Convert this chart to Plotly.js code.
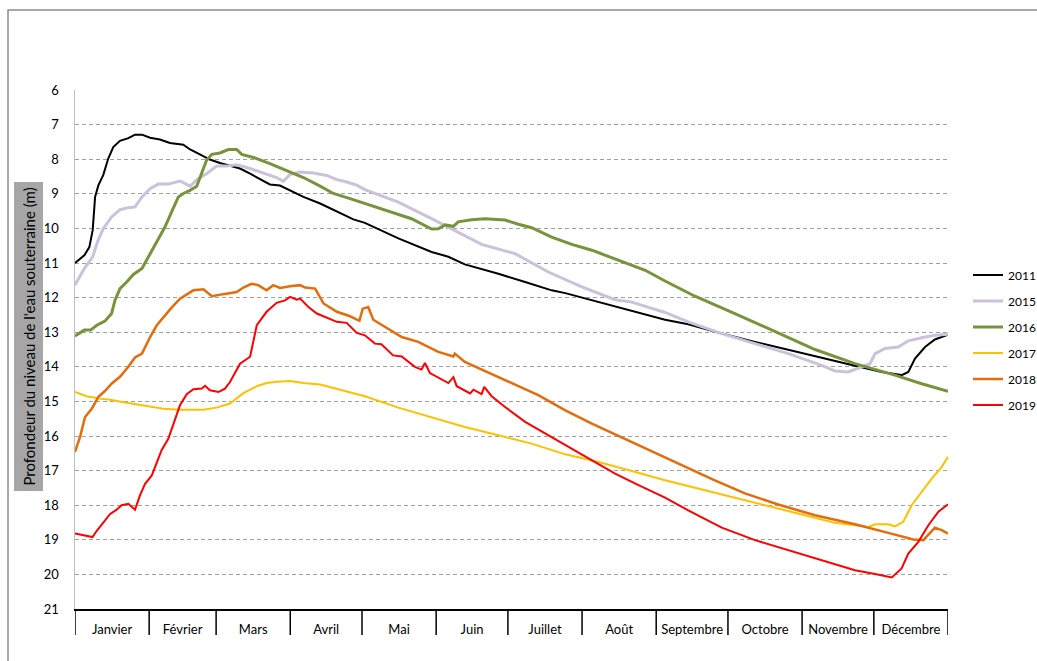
<!DOCTYPE html>
<html>
<head>
<meta charset="utf-8">
<script src="https://cdn.plot.ly/plotly-3.0.1.min.js"></script>
<style>
html,body{margin:0;padding:0;background:#fff;}
#chart{width:1037px;height:661px;}
</style>
</head>
<body>
<div id="chart"></div>
<script>
// Month categories (day-of-year boundaries and labels)
const monthNames = ["Janvier","Février","Mars","Avril","Mai","Juin","Juillet","Août","Septembre","Octobre","Novembre","Décembre"];
const monthBounds = [0,31,59,90,120,151,181,212,243,273,304,334,365];
const yTicks = [6,7,8,9,10,11,12,13,14,15,16,17,18,19,20,21];

// Series: day of year / depth (m)
const d2011 = [0,3.9,6,7.4,8.4,9.8,11.8,13.9,16,18.8,22.3,25.1,28,31.4,35.5,37.6,39.7,45.3,48.1,51.6,56.4,60.6,64.8,69,73.2,77.4,81.5,85.7,89.9,95.5,102.5,109.5,116.4,121.2,135.2,149.1,156.1,163,177,188.2,199.3,205,218.9,232.8,246.7,256.4,270.4,284.3,298.2,312.2,326.1,337.3,345.6,348.4,351.2,355.4,359.5,365];
const v2011 = [11.0,10.78,10.54,10.05,9.09,8.75,8.46,7.98,7.65,7.47,7.39,7.29,7.29,7.38,7.43,7.47,7.53,7.58,7.72,7.84,8.01,8.11,8.20,8.27,8.42,8.58,8.73,8.76,8.90,9.09,9.28,9.52,9.74,9.84,10.29,10.68,10.82,11.04,11.31,11.55,11.79,11.87,12.13,12.37,12.64,12.77,13.04,13.28,13.50,13.74,13.97,14.15,14.24,14.15,13.76,13.43,13.21,13.07];

const d2015 = [0,3.9,7.4,9.4,11.8,15.3,18.8,22.3,25.1,28,31.4,34.8,39,43.9,48.1,51.6,55,59.2,63.4,67.6,73.2,78.8,84.3,87.1,89.9,94.1,99.7,105.2,109.5,113.6,117.8,121.2,135.2,149.1,163,170,184,197.9,211.9,225.8,232.8,246.7,256.4,270.4,284.3,298.2,312.2,317.7,323.3,328.9,332.4,334.5,338.7,344.2,348.4,354,359.5,365];
const v2015 = [11.64,11.16,10.82,10.39,10.01,9.67,9.46,9.40,9.38,9.09,8.85,8.72,8.72,8.63,8.78,8.56,8.42,8.20,8.20,8.16,8.27,8.40,8.53,8.64,8.44,8.37,8.40,8.47,8.59,8.66,8.75,8.88,9.24,9.72,10.20,10.46,10.73,11.26,11.69,12.06,12.13,12.43,12.70,13.04,13.33,13.62,13.96,14.12,14.15,14.00,13.91,13.62,13.47,13.43,13.25,13.16,13.09,13.06];

const d2016 = [0,3.9,6.5,9.1,12.5,15.3,16.7,18.8,21.6,24.4,28,30.7,34.2,37.6,40.4,43.2,45.3,48.1,50.9,53,55,57.2,60.6,64.1,67.6,69.7,74.6,81.5,88.5,95.5,102.5,108,115,121.2,132.4,140.7,149.1,151.9,154.7,158.2,160.2,165.8,171.4,179.8,185.4,190.9,199.3,207.7,216.1,227.2,238.4,246.7,259.2,275.9,292.6,309.4,326.1,342.8,354,365];
const v2016 = [13.11,12.94,12.94,12.80,12.68,12.46,12.08,11.74,11.55,11.33,11.16,10.82,10.39,9.96,9.52,9.09,8.99,8.90,8.78,8.42,8.03,7.86,7.82,7.72,7.72,7.86,7.95,8.13,8.32,8.53,8.78,8.99,9.14,9.28,9.52,9.72,10.02,10.01,9.90,9.94,9.81,9.75,9.72,9.76,9.88,9.98,10.25,10.46,10.63,10.92,11.21,11.52,11.96,12.46,12.99,13.50,13.91,14.24,14.49,14.71];

const d2017 = [0,4.8,10.5,14.6,21.6,28,37,43.9,53.7,59.2,64.8,70.4,76,80.1,84.3,89.9,95.5,102.5,109.5,116.4,121.2,135.2,149.1,163,177,190.9,205,218.9,232.8,246.7,263.4,284.3,305.2,317.7,331.7,334.5,340,342.8,346.3,349.8,354,358.2,362.4,365];
const v2017 = [14.73,14.85,14.92,14.95,15.04,15.11,15.21,15.24,15.24,15.18,15.06,14.76,14.56,14.47,14.43,14.41,14.47,14.51,14.63,14.76,14.85,15.18,15.47,15.74,15.98,16.22,16.53,16.75,17.01,17.28,17.57,17.92,18.29,18.51,18.63,18.55,18.55,18.61,18.48,18.00,17.62,17.23,16.89,16.60];

const d2018 = [0,2.1,4.2,7,9.8,12.5,15.3,18.8,22.3,25.1,28,31.4,34.2,37,40.4,43.9,49.5,53.7,57.2,62,67.6,70.4,73.8,76.6,80.1,82.9,85.7,89.9,94.1,96.2,100.4,103.9,109.5,115,118.9,120.3,122.6,124.7,129.6,136.6,143.5,151.9,158.2,158.8,163,174.2,185.4,193.7,205,216.1,224.5,232.8,246.7,255,267.5,280.1,294,309.4,326.1,340,350.5,354.7,356.8,359.5,362.4,365];
const v2018 = [16.46,16.03,15.45,15.21,14.87,14.70,14.49,14.29,14.00,13.73,13.62,13.14,12.80,12.56,12.29,12.03,11.79,11.76,11.96,11.90,11.84,11.71,11.60,11.64,11.79,11.64,11.72,11.67,11.64,11.71,11.74,12.17,12.41,12.54,12.67,12.32,12.27,12.64,12.85,13.14,13.28,13.57,13.70,13.62,13.86,14.20,14.56,14.82,15.26,15.64,15.91,16.17,16.62,16.89,17.28,17.66,17.98,18.29,18.55,18.80,18.99,19.01,18.86,18.65,18.72,18.82];

const d2019 = [0,4.2,7.3,9.1,11.8,14.6,17.4,19.5,22.3,25.1,27.2,29.3,32.1,34.2,36.2,39,41.1,43.9,46.7,49.5,53,54.4,56.4,60,62.7,64.8,69,73.2,76,80.1,84.3,87.8,89.9,92.7,94.1,97.6,101.1,105.2,109.5,113.6,117.8,121.2,125.4,128.1,133,136.6,142.1,144.9,146.3,148.4,156.1,158.2,159.6,165.2,166.6,170,171.1,174.2,179.8,188.2,197.9,207.7,216.1,225.8,235.6,246.7,256.4,270.4,284.3,298.2,312.2,326.1,334.5,341.5,345.6,348.4,352.6,356.8,361,365];
const v2019 = [18.82,18.87,18.92,18.74,18.51,18.26,18.13,18.00,17.96,18.13,17.71,17.38,17.14,16.75,16.41,16.08,15.64,15.11,14.79,14.65,14.63,14.55,14.68,14.73,14.63,14.44,13.91,13.71,12.80,12.41,12.15,12.08,11.98,12.06,12.03,12.27,12.46,12.58,12.70,12.73,13.02,13.09,13.33,13.35,13.67,13.70,14.00,14.08,13.89,14.18,14.47,14.30,14.56,14.77,14.66,14.79,14.58,14.85,15.16,15.59,15.98,16.36,16.70,17.09,17.42,17.78,18.15,18.65,19.01,19.30,19.59,19.88,19.99,20.09,19.83,19.40,19.06,18.58,18.19,17.97];

const seriesNames = ["2011","2015","2016","2017","2018","2019"];

// ---- build chart ----
const FONT = "Lato, 'Open Sans', sans-serif";
const styles = [
  {c:"#000000", w:2},
  {c:"#ccc1da", w:3},
  {c:"#77933c", w:3},
  {c:"#ffc000", w:2},
  {c:"#e46c0a", w:2.5},
  {c:"#ff0000", w:2}
];
const xs = [d2011,d2015,d2016,d2017,d2018,d2019];
const ys = [v2011,v2015,v2016,v2017,v2018,v2019];

const traces = seriesNames.map((n,i)=>({
  type:"scatter", mode:"lines", name:n, x:xs[i], y:ys[i],
  line:{color:styles[i].c, width:styles[i].w},
  legendgroup:"g"+i, hoverinfo:"x+y+name"
}));

const mids = monthNames.map((m,i)=>(monthBounds[i]+monthBounds[i+1])/2);

const shapes = monthBounds.map(b=>({
  type:"line", xref:"x", yref:"paper", x0:b, x1:b, y0:0, y1:-26/519,
  line:{color:"#000", width:1.5}, layer:"above"
}));
// outer frame
shapes.push({type:"rect", xref:"paper", yref:"paper",
  x0:(8-75)/873, x1:1.3, y0:(609-10)/519, y1:-0.3,
  line:{color:"#8c8c8c", width:1.5}, fillcolor:"rgba(0,0,0,0)", layer:"below"});

const layout = {
  width:1037, height:661,
  margin:{l:75, r:89, t:90, b:52, pad:0, autoexpand:false},
  paper_bgcolor:"#fff", plot_bgcolor:"#fff",
  font:{family:FONT, size:13, color:"#000"},
  showlegend:true,
  legend:{x:(968-75)/873, xanchor:"left", y:(609-340)/519, yanchor:"middle",
    font:{family:FONT, size:12, color:"#000"}, tracegroupgap:7, bgcolor:"rgba(0,0,0,0)"},
  xaxis:{range:[0,365], tickvals:mids, ticktext:monthNames, ticks:"",
    showgrid:false, zeroline:false, showline:true, linecolor:"#000", linewidth:1.5,
    tickfont:{family:FONT, size:13, color:"#000"}, ticklabelstandoff:8, fixedrange:true, automargin:false},
  yaxis:{range:[21,6], tickvals:yTicks, ticks:"", showgrid:true, gridcolor:"#a0a0a0",
    griddash:"4px,3px", gridwidth:1, zeroline:false, showline:true, linecolor:"#bfbfbf", linewidth:1.5,
    tickfont:{family:FONT, size:13, color:"#000"}, ticklabelstandoff:12, fixedrange:true, automargin:false},
  shapes:shapes,
  annotations:[{
    xref:"paper", yref:"paper", x:(28.5-75)/873, y:(609-337)/519,
    xanchor:"center", yanchor:"middle", textangle:-90, showarrow:false,
    text:"Profondeur du niveau de l'eau souterraine (m)",
    font:{family:FONT, size:15, color:"#000"}, bgcolor:"#a6a6a6", borderpad:5
  }]
};

Plotly.newPlot("chart", traces, layout, {displayModeBar:false, staticPlot:true});
</script>
</body>
</html>
